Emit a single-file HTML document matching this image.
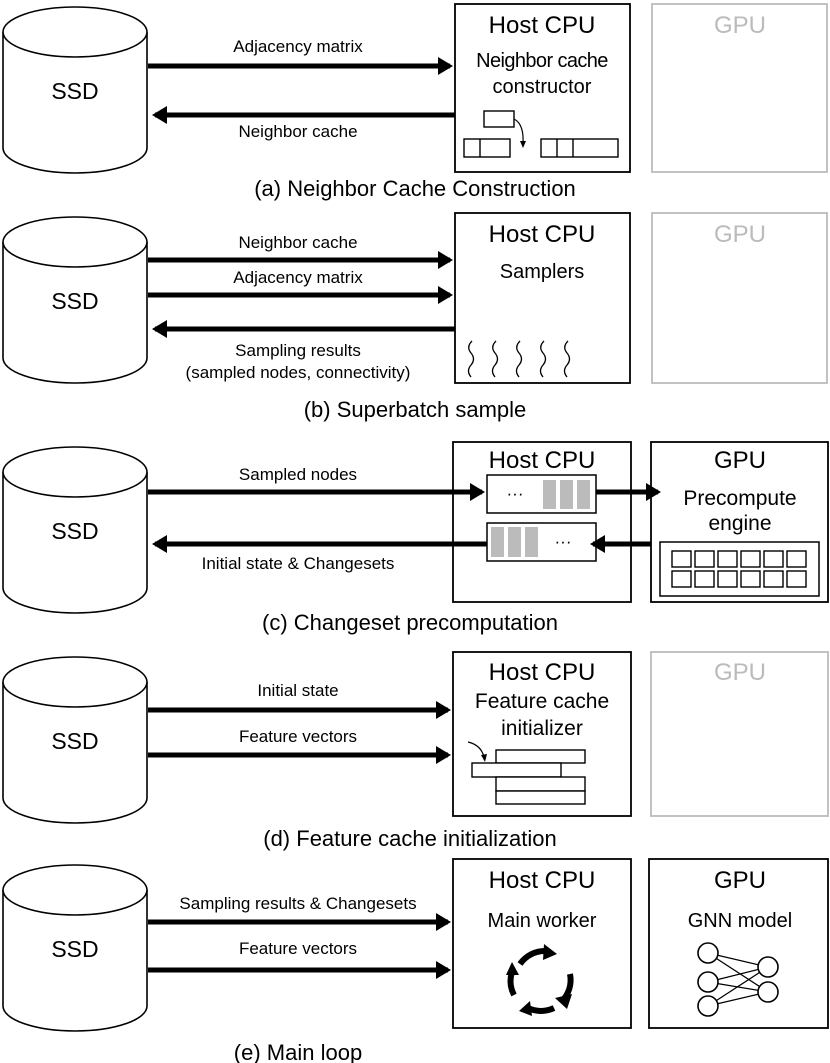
<!DOCTYPE html>
<html><head><meta charset="utf-8"><style>
html,body{margin:0;padding:0;background:#fff}
svg{display:block}
text{font-family:"Liberation Sans",Arial,sans-serif;fill:#000}
</style></head><body>
<svg width="830" height="1063" viewBox="0 0 830 1063" xmlns="http://www.w3.org/2000/svg">
<defs>
<marker id="ah" markerWidth="4" markerHeight="4" refX="2.4" refY="2" orient="auto" markerUnits="strokeWidth">
<path d="M0,0.2 L3,2 L0,3.8 Z" fill="#000"/></marker>
<g id="ssd">
<path d="M3,32 L3,148 A72,25 0 0 0 147,148 L147,32" fill="#fff" stroke="#000" stroke-width="1.6"/>
<ellipse cx="75" cy="32" rx="72" ry="25" fill="#fff" stroke="#000" stroke-width="1.6"/>
<text x="75" y="99" font-size="23" text-anchor="middle">SSD</text>
</g>
</defs>

<!-- (a) -->
<use href="#ssd" y="0"/>
<rect x="455" y="4" width="175" height="168" fill="#fff" stroke="#000" stroke-width="1.8"/>
<rect x="652" y="4" width="175" height="168" fill="none" stroke="#bbb" stroke-width="1.8"/>
<text x="542" y="33" font-size="24" text-anchor="middle">Host CPU</text>
<text x="740" y="33" font-size="24" text-anchor="middle" style="fill:#bbb">GPU</text>
<text x="542" y="67" font-size="20" text-anchor="middle" letter-spacing="-0.6">Neighbor cache</text>
<text x="542" y="93" font-size="20" text-anchor="middle">constructor</text>
<line x1="148" y1="66" x2="450" y2="66" stroke="#000" stroke-width="5" marker-end="url(#ah)"/>
<line x1="455" y1="115" x2="155" y2="115" stroke="#000" stroke-width="5" marker-end="url(#ah)"/>
<text x="298" y="52" font-size="17" text-anchor="middle">Adjacency matrix</text>
<text x="298" y="137" font-size="17" text-anchor="middle">Neighbor cache</text>
<rect x="484" y="111" width="30" height="16" fill="none" stroke="#000" stroke-width="1.4"/>
<path d="M514,119 Q524,124 523,143" fill="none" stroke="#000" stroke-width="1.2"/>
<path d="M520,141 L523,148 L526,141 Z" fill="#000"/>
<rect x="464" y="139" width="46" height="18" fill="none" stroke="#000" stroke-width="1.4"/>
<line x1="480" y1="139" x2="480" y2="157" stroke="#000" stroke-width="1.4"/>
<rect x="541" y="139" width="77" height="18" fill="none" stroke="#000" stroke-width="1.4"/>
<line x1="557" y1="139" x2="557" y2="157" stroke="#000" stroke-width="1.4"/>
<line x1="573" y1="139" x2="573" y2="157" stroke="#000" stroke-width="1.4"/>
<text x="415" y="196" font-size="22" text-anchor="middle">(a) Neighbor Cache Construction</text>

<!-- (b) -->
<use href="#ssd" y="210"/>
<rect x="455" y="213" width="175" height="170" fill="#fff" stroke="#000" stroke-width="1.8"/>
<rect x="652" y="213" width="175" height="170" fill="none" stroke="#bbb" stroke-width="1.8"/>
<text x="542" y="242" font-size="24" text-anchor="middle">Host CPU</text>
<text x="740" y="242" font-size="24" text-anchor="middle" style="fill:#bbb">GPU</text>
<text x="542" y="278" font-size="20" text-anchor="middle">Samplers</text>
<line x1="148" y1="260" x2="450" y2="260" stroke="#000" stroke-width="5" marker-end="url(#ah)"/>
<line x1="148" y1="295" x2="450" y2="295" stroke="#000" stroke-width="5" marker-end="url(#ah)"/>
<line x1="455" y1="329" x2="155" y2="329" stroke="#000" stroke-width="5" marker-end="url(#ah)"/>
<text x="298" y="248" font-size="17" text-anchor="middle">Neighbor cache</text>
<text x="298" y="283" font-size="17" text-anchor="middle">Adjacency matrix</text>
<text x="298" y="356" font-size="17" text-anchor="middle">Sampling results</text>
<text x="298" y="378" font-size="17" text-anchor="middle">(sampled nodes, connectivity)</text>
<g fill="none" stroke="#000" stroke-width="1.3">
<path id="wv" d="M496,341 q-6,6 -1,12 q5,6 0,12 q-5,6 0,12"/>
<use href="#wv" x="-24"/><use href="#wv" x="24"/><use href="#wv" x="48"/><use href="#wv" x="72"/>
</g>
<text x="415" y="417" font-size="22" text-anchor="middle">(b) Superbatch sample</text>

<!-- (c) -->
<use href="#ssd" y="440"/>
<rect x="453" y="442" width="178" height="160" fill="#fff" stroke="#000" stroke-width="1.8"/>
<rect x="651" y="442" width="177" height="160" fill="#fff" stroke="#000" stroke-width="1.8"/>
<text x="542" y="468" font-size="24" text-anchor="middle">Host CPU</text>
<text x="740" y="468" font-size="24" text-anchor="middle">GPU</text>
<text x="740" y="505" font-size="21" text-anchor="middle">Precompute</text>
<text x="740" y="530" font-size="21" text-anchor="middle">engine</text>
<rect x="487" y="475" width="109" height="38" fill="#fff" stroke="#000" stroke-width="1.5"/>
<text x="515" y="499" font-size="17" text-anchor="middle">···</text>
<rect x="543" y="480" width="13" height="29" fill="#bbb"/><rect x="560" y="480" width="13" height="29" fill="#bbb"/><rect x="577" y="480" width="13" height="29" fill="#bbb"/>
<rect x="487" y="523" width="109" height="38" fill="#fff" stroke="#000" stroke-width="1.5"/>
<rect x="491" y="527" width="13" height="30" fill="#bbb"/><rect x="508" y="527" width="13" height="30" fill="#bbb"/><rect x="525" y="527" width="13" height="30" fill="#bbb"/>
<text x="563" y="547" font-size="17" text-anchor="middle">···</text>
<line x1="148" y1="492" x2="482" y2="492" stroke="#000" stroke-width="5" marker-end="url(#ah)"/>
<line x1="596" y1="492" x2="658" y2="492" stroke="#000" stroke-width="5" marker-end="url(#ah)"/>
<line x1="651" y1="544" x2="593" y2="544" stroke="#000" stroke-width="5" marker-end="url(#ah)"/>
<line x1="487" y1="544" x2="155" y2="544" stroke="#000" stroke-width="5" marker-end="url(#ah)"/>
<text x="298" y="480" font-size="17" text-anchor="middle">Sampled nodes</text>
<text x="298" y="569" font-size="17" text-anchor="middle">Initial state &amp; Changesets</text>
<rect x="660" y="542" width="159" height="54" fill="none" stroke="#000" stroke-width="1.5"/>
<g fill="none" stroke="#000" stroke-width="1.4">
<rect x="672" y="551" width="19" height="16"/><rect x="695" y="551" width="19" height="16"/><rect x="718" y="551" width="19" height="16"/><rect x="741" y="551" width="19" height="16"/><rect x="764" y="551" width="19" height="16"/><rect x="787" y="551" width="19" height="16"/>
<rect x="672" y="571" width="19" height="16"/><rect x="695" y="571" width="19" height="16"/><rect x="718" y="571" width="19" height="16"/><rect x="741" y="571" width="19" height="16"/><rect x="764" y="571" width="19" height="16"/><rect x="787" y="571" width="19" height="16"/>
</g>
<text x="410" y="630" font-size="22" text-anchor="middle">(c) Changeset precomputation</text>

<!-- (d) -->
<use href="#ssd" y="650"/>
<rect x="453" y="652" width="178" height="164" fill="#fff" stroke="#000" stroke-width="1.8"/>
<rect x="651" y="652" width="177" height="164" fill="none" stroke="#bbb" stroke-width="1.8"/>
<text x="542" y="680" font-size="24" text-anchor="middle">Host CPU</text>
<text x="740" y="680" font-size="24" text-anchor="middle" style="fill:#bbb">GPU</text>
<text x="542" y="708" font-size="21" text-anchor="middle">Feature cache</text>
<text x="542" y="735" font-size="21" text-anchor="middle">initializer</text>
<line x1="148" y1="710" x2="448" y2="710" stroke="#000" stroke-width="5" marker-end="url(#ah)"/>
<line x1="148" y1="755" x2="448" y2="755" stroke="#000" stroke-width="5" marker-end="url(#ah)"/>
<text x="298" y="696" font-size="17" text-anchor="middle">Initial state</text>
<text x="298" y="742" font-size="17" text-anchor="middle">Feature vectors</text>
<g fill="#fff" stroke="#000" stroke-width="1.4">
<rect x="496" y="750" width="89" height="13"/>
<rect x="472" y="763" width="89" height="14"/>
<rect x="496" y="777" width="89" height="14"/>
<rect x="496" y="791" width="89" height="13"/>
</g>
<path d="M468,742 Q481,745 484,757" fill="none" stroke="#000" stroke-width="1.2"/>
<path d="M481,755 L485,762 L487,754 Z" fill="#000"/>
<text x="410" y="846" font-size="22" text-anchor="middle">(d) Feature cache initialization</text>

<!-- (e) -->
<use href="#ssd" y="858"/>
<rect x="453" y="859" width="178" height="169" fill="#fff" stroke="#000" stroke-width="1.8"/>
<rect x="649" y="859" width="179" height="169" fill="#fff" stroke="#000" stroke-width="1.8"/>
<text x="542" y="888" font-size="24" text-anchor="middle">Host CPU</text>
<text x="740" y="888" font-size="24" text-anchor="middle">GPU</text>
<text x="542" y="927" font-size="20" text-anchor="middle">Main worker</text>
<text x="740" y="927" font-size="20" text-anchor="middle">GNN model</text>
<line x1="148" y1="922" x2="448" y2="922" stroke="#000" stroke-width="5" marker-end="url(#ah)"/>
<line x1="148" y1="970" x2="448" y2="970" stroke="#000" stroke-width="5" marker-end="url(#ah)"/>
<text x="298" y="909" font-size="17" text-anchor="middle">Sampling results &amp; Changesets</text>
<text x="298" y="954" font-size="17" text-anchor="middle">Feature vectors</text>
<g fill="none" stroke="#000" stroke-width="6">
<path d="M520,964 A30,30 0 0 1 546,951"/>
<path d="M570,974 A30,30 0 0 1 561,1002"/>
<path d="M554,1008 A30,30 0 0 1 528,1008"/>
<path d="M514,995 A30,30 0 0 1 512,972"/>
</g>
<g fill="#000">
<path d="M544,944 L557,954 L543,960 Z"/>
<path d="M555,998 L567,1009 L572,994 Z"/>
<path d="M530,1001 L519,1011 L532,1016 Z"/>
<path d="M506,975 L512,962 L519,975 Z"/>
</g>
<g stroke="#000" stroke-width="1.2" fill="none">
<line x1="708" y1="953" x2="768" y2="967"/><line x1="708" y1="953" x2="768" y2="992"/>
<line x1="708" y1="982" x2="768" y2="967"/><line x1="708" y1="982" x2="768" y2="992"/>
<line x1="708" y1="1006" x2="768" y2="967"/><line x1="708" y1="1006" x2="768" y2="992"/>
</g>
<g stroke="#000" stroke-width="1.6" fill="#fff">
<circle cx="708" cy="953" r="10"/><circle cx="708" cy="982" r="10"/><circle cx="708" cy="1006" r="10"/>
<circle cx="768" cy="967" r="10"/><circle cx="768" cy="992" r="10"/>
</g>
<text x="298" y="1060" font-size="22" text-anchor="middle">(e) Main loop</text>
</svg>
</body></html>
